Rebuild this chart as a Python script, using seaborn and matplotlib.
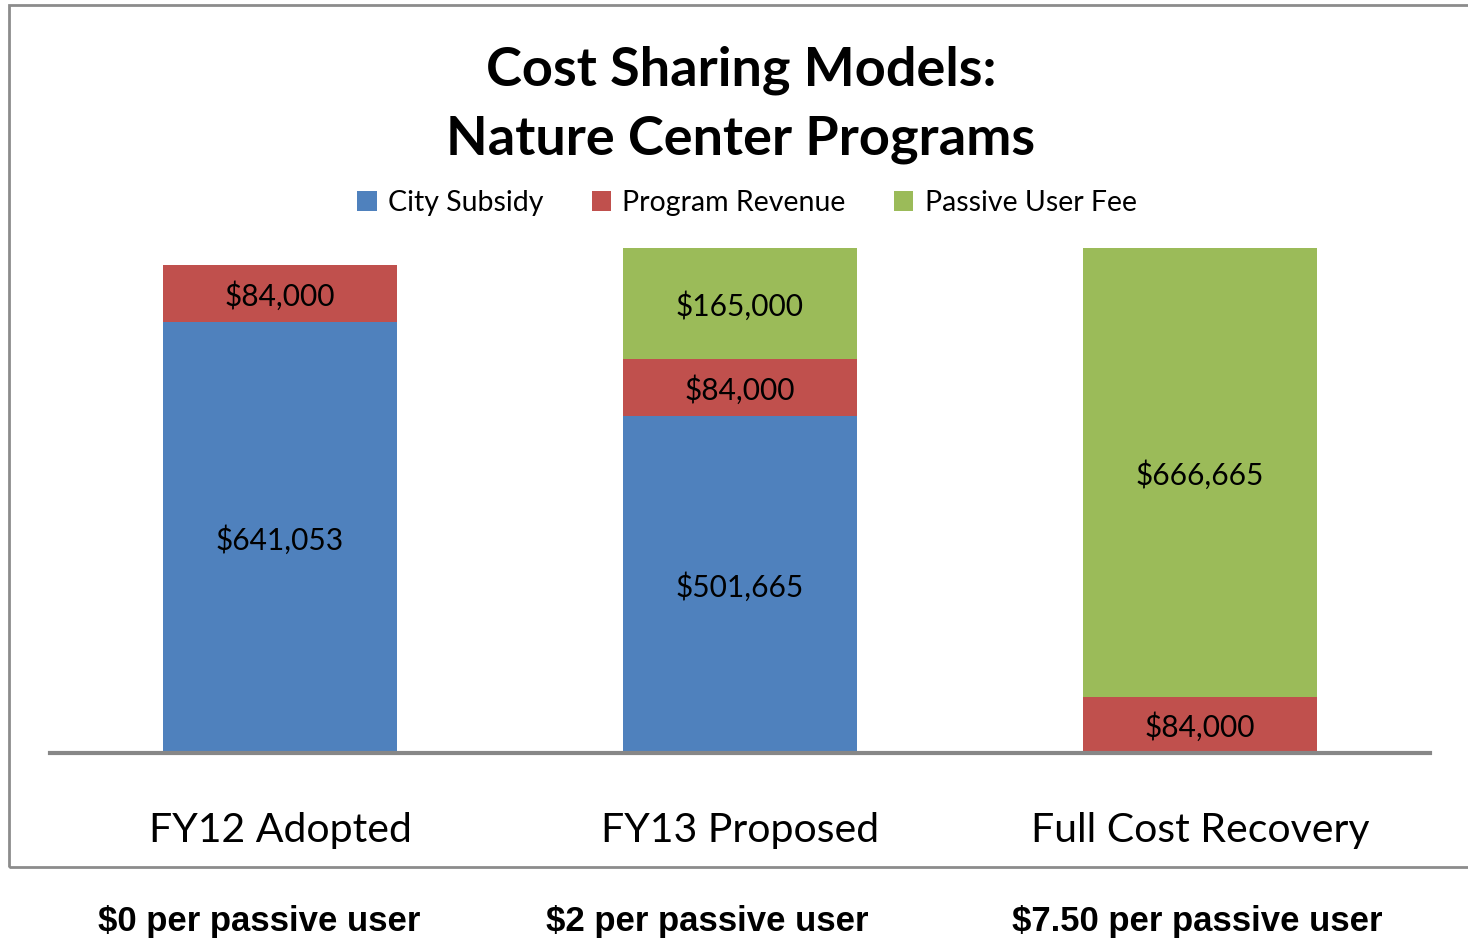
import numpy as np
import pandas as pd
import matplotlib.pyplot as plt
import seaborn as sns
from matplotlib.patches import Rectangle, Patch

# Dữ liệu
categories = ['FY12 Adopted', 'FY13 Proposed', 'Full Cost Recovery']
city_subsidy = [641053, 501665, 0]
program_revenue = [84000, 84000, 84000]
passive_user_fee = [0, 165000, 666665]
series_names = ['City Subsidy', 'Program Revenue', 'Passive User Fee']
fee_notes = ['$0 per passive user', '$2 per passive user', '$7.50 per passive user']

colors = ['#4F81BD', '#C0504D', '#9BBB59']

sns.set_style('white')
plt.rcParams['font.family'] = ['Lato', 'DejaVu Sans']
plt.rcParams['text.color'] = 'black'
plt.rcParams['xtick.color'] = 'black'

df = pd.DataFrame({'category': categories,
                   'city': city_subsidy,
                   'program': program_revenue,
                   'passive': passive_user_fee})
df['lvl1'] = df['city']
df['lvl2'] = df['city'] + df['program']
df['lvl3'] = df['lvl2'] + df['passive']

fig = plt.figure(figsize=(14.68, 9.40), dpi=100)
ax = fig.add_axes([50 / 1468, 1 - 753 / 940, 1380 / 1468, 538 / 940])

# Vẽ cột chồng bằng cách chồng các cột tích lũy
for col, c in zip(['lvl3', 'lvl2', 'lvl1'], colors[::-1]):
    sns.barplot(data=df, x='category', y=col, color=c, width=0.51,
                linewidth=0, saturation=1, ax=ax)

# Nhãn giá trị ở giữa mỗi đoạn
for i in range(len(categories)):
    bottom = 0
    for vals in [city_subsidy, program_revenue, passive_user_fee]:
        v = vals[i]
        if v > 0:
            ax.text(i, bottom + v / 2, f'${v:,}', ha='center', va='center_baseline',
                    fontsize=21.5, color='black')
        bottom += v

ax.set_xlim(-0.5, 2.5)
ax.set_ylim(0, 800000)
ax.set_xlabel('')
ax.set_ylabel('')
ax.set_yticks([])
ax.set_xticks(range(len(categories)))
ax.set_xticklabels(categories, fontsize=29.5)
ax.tick_params(axis='x', length=0, pad=42.5)
for s in ['top', 'left', 'right']:
    ax.spines[s].set_visible(False)
ax.spines['bottom'].set_color('#878787')
ax.spines['bottom'].set_linewidth(3)
ax.patch.set_alpha(0)

# Tiêu đề
fig.text(741 / 1468, 1 - 70 / 940, 'Cost Sharing Models:', ha='center', va='center',
         fontsize=39, fontweight='bold')
fig.text(741 / 1468, 1 - 140 / 940, 'Nature Center Programs', ha='center', va='center',
         fontsize=39, fontweight='bold')

# Chú giải
handles = [Patch(facecolor=c, edgecolor='none') for c in colors]
fig.legend(handles, series_names, loc='center', bbox_to_anchor=(747 / 1468, 1 - 203 / 940),
           ncol=3, frameon=False, fontsize=20.5, handlelength=0.67, handleheight=0.67,
           handletextpad=0.4, columnspacing=1.7)

# Khung viền
frame = Rectangle((9 / 1468, 1 - 867 / 940), 1.1, 862 / 940, transform=fig.transFigure,
                  fill=False, edgecolor='#8C8C8C', linewidth=2, zorder=-1)
fig.patches.append(frame)

# Ghi chú phí bên dưới
for x, note in zip([259, 707, 1197], fee_notes):
    fig.text(x / 1468, 1 - 921 / 940, note, ha='center', va='center', fontsize=25,
             fontweight='bold', family=['Liberation Sans', 'DejaVu Sans'])

fig.savefig('out.png', dpi=100)
